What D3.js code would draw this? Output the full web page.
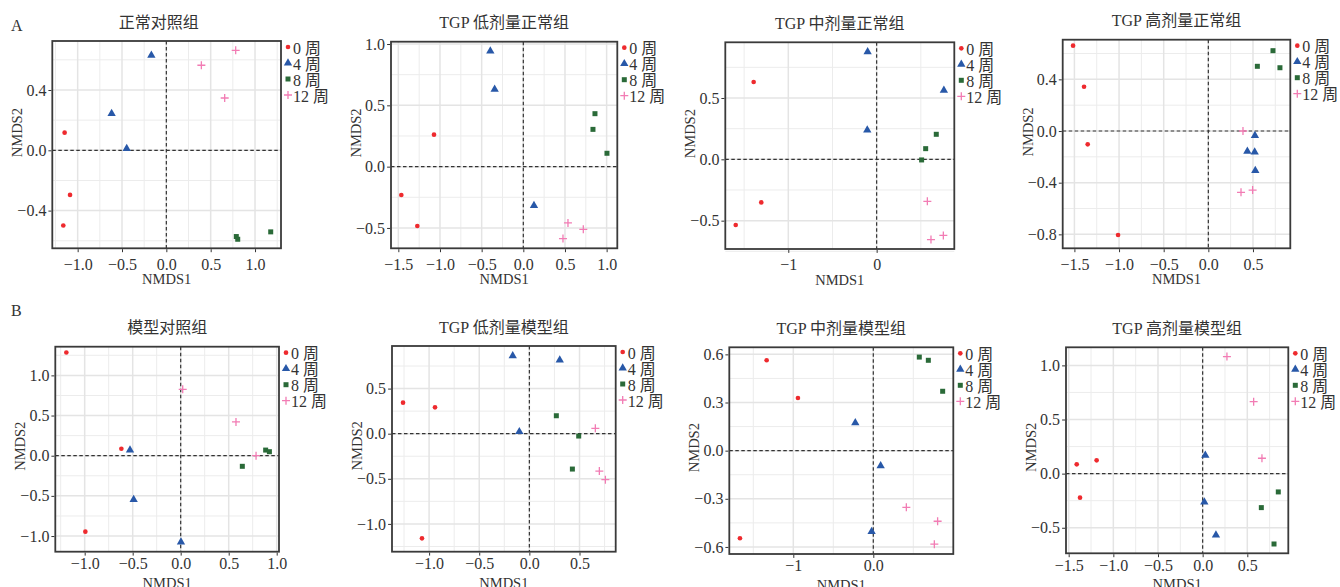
<!DOCTYPE html>
<html>
<head>
<meta charset="utf-8">
<script src="https://cdn.jsdelivr.net/npm/d3@7"></script>
<style>
  html, body { margin: 0; padding: 0; background: #fff; }
  svg { display: block; }
</style>
</head>
<body>
<svg id="chart" width="1340" height="587"></svg>
<script>
// ---- data: NMDS ordination scores, rows are [week, NMDS1, NMDS2] ----
const weeks = [0, 4, 8, 12];
const weekLabels = ["0 周", "4 周", "8 周", "12 周"];

const normalCtrl = [
  [0, -1.147, 0.117], [0, -1.086, -0.296], [0, -1.162, -0.499],
  [4, -0.169, 0.630], [4, -0.617, 0.243], [4, -0.447, 0.011],
  [8, 0.789, -0.572], [8, 0.805, -0.590], [8, 1.177, -0.541],
  [12, 0.782, 0.663], [12, 0.395, 0.564], [12, 0.658, 0.347]
];
const lowNormal = [
  [0, -1.464, -0.231], [0, -1.272, -0.484], [0, -1.072, 0.261],
  [4, -0.396, 0.943], [4, -0.344, 0.630], [4, 0.128, -0.318],
  [8, 0.860, 0.432], [8, 0.836, 0.304], [8, 1.004, 0.109],
  [12, 0.536, -0.459], [12, 0.720, -0.511], [12, 0.476, -0.587]
];
const midNormal = [
  [0, -1.392, 0.630], [0, -1.306, -0.351], [0, -1.595, -0.535],
  [4, -0.102, 0.877], [4, -0.106, 0.239], [4, 0.761, 0.562],
  [8, 0.675, 0.204], [8, 0.555, 0.087], [8, 0.509, -0.005],
  [12, 0.574, -0.342], [12, 0.755, -0.620], [12, 0.615, -0.654]
];
const highNormal = [
  [0, -1.515, 0.661], [0, -1.392, 0.343], [0, -1.351, -0.103], [0, -1.011, -0.805],
  [4, 0.522, -0.036], [4, 0.437, -0.157], [4, 0.519, -0.163], [4, 0.526, -0.307],
  [8, 0.724, 0.622], [8, 0.549, 0.501], [8, 0.802, 0.490],
  [12, 0.388, 0.000], [12, 0.496, -0.457], [12, 0.366, -0.475]
];
const modelCtrl = [
  [0, -1.191, 1.285], [0, -0.618, 0.087], [0, -0.993, -0.946],
  [4, -0.528, 0.070], [4, -0.490, -0.545], [4, 0.003, -1.074],
  [8, 0.885, 0.070], [8, 0.924, 0.050], [8, 0.642, -0.132],
  [12, 0.021, 0.826], [12, 0.576, 0.421], [12, 0.785, 0.000]
];
const lowModel = [
  [0, -1.260, 0.344], [0, -0.941, 0.292], [0, -1.071, -1.160],
  [4, -0.166, 0.864], [4, 0.303, 0.816], [4, -0.100, 0.022],
  [8, 0.269, 0.199], [8, 0.492, -0.026], [8, 0.429, -0.392],
  [12, 0.658, 0.059], [12, 0.698, -0.414], [12, 0.758, -0.510]
];
const midModel = [
  [0, -1.333, 0.563], [0, -0.942, 0.328], [0, -1.667, -0.546],
  [4, -0.225, 0.174], [4, 0.092, -0.095], [4, -0.021, -0.504],
  [8, 0.575, 0.583], [8, 0.688, 0.563], [8, 0.867, 0.370],
  [12, 0.413, -0.353], [12, 0.804, -0.440], [12, 0.763, -0.583]
];
const highModel = [
  [0, -1.410, 0.086], [0, -1.187, 0.123], [0, -1.373, -0.222],
  [4, 0.030, 0.169], [4, 0.019, -0.262], [4, 0.149, -0.567],
  [8, 0.847, -0.169], [8, 0.657, -0.314], [8, 0.799, -0.650],
  [12, 0.272, 1.081], [12, 0.571, 0.665], [12, 0.664, 0.142]
];

const titles = [
  "正常对照组", "TGP 低剂量正常组", "TGP 中剂量正常组", "TGP 高剂量正常组",
  "模型对照组", "TGP 低剂量模型组", "TGP 中剂量模型组", "TGP 高剂量模型组"
];

// axis ticks (major breaks and their labels; minor breaks get grid lines only)
const xTicks = [
  [-1, -0.5, 0, 0.5, 1], [-1.5, -1, -0.5, 0, 0.5, 1], [-1, 0], [-1.5, -1, -0.5, 0, 0.5],
  [-1, -0.5, 0, 0.5, 1], [-1, -0.5, 0, 0.5], [-1, 0], [-1.5, -1, -0.5, 0, 0.5]
];
const xTickLabels = [
  ["−1.0", "−0.5", "0.0", "0.5", "1.0"], ["−1.5", "−1.0", "−0.5", "0.0", "0.5", "1.0"],
  ["−1", "0"], ["−1.5", "−1.0", "−0.5", "0.0", "0.5"],
  ["−1.0", "−0.5", "0.0", "0.5", "1.0"], ["−1.0", "−0.5", "0.0", "0.5"],
  ["−1", "0.0"], ["−1.5", "−1.0", "−0.5", "0.0", "0.5"]
];
const xMinor = [
  [-1.25, -0.75, -0.25, 0.25, 0.75, 1.25], [-1.25, -0.75, -0.25, 0.25, 0.75],
  [-1.5, -0.5, 0.5], [-1.25, -0.75, -0.25, 0.25, 0.75],
  [-1.25, -0.75, -0.25, 0.25, 0.75], [-1.25, -0.75, -0.25, 0.25, 0.75],
  [-1.5, -0.5, 0.5], [-1.25, -0.75, -0.25, 0.25, 0.75]
];
const yTicks = [
  [-0.4, 0, 0.4], [-0.5, 0, 0.5, 1], [-0.5, 0, 0.5], [-0.8, -0.4, 0, 0.4],
  [-1, -0.5, 0, 0.5, 1], [-1, -0.5, 0, 0.5], [-0.6, -0.3, 0, 0.3, 0.6], [-0.5, 0, 0.5, 1]
];
const yTickLabels = [
  ["−0.4", "0.0", "0.4"], ["−0.5", "0.0", "0.5", "1.0"], ["−0.5", "0.0", "0.5"],
  ["−0.8", "−0.4", "0.0", "0.4"], ["−1.0", "−0.5", "0.0", "0.5", "1.0"],
  ["−1.0", "−0.5", "0.0", "0.5"], ["−0.6", "−0.3", "0.0", "0.3", "0.6"],
  ["−0.5", "0.0", "0.5", "1.0"]
];
const yMinor = [
  [-0.6, -0.2, 0.2, 0.6], [-0.25, 0.25, 0.75], [-0.75, -0.25, 0.25, 0.75], [-0.6, -0.2, 0.2, 0.6],
  [-0.75, -0.25, 0.25, 0.75, 1.25], [-1.25, -0.75, -0.25, 0.25, 0.75],
  [-0.45, -0.15, 0.15, 0.45], [-0.25, 0.25, 0.75]
];

const xDomains = [
  [-1.286, 1.293], [-1.588, 1.128], [-1.713, 0.879], [-1.631, 0.918],
  [-1.306, 1.024], [-1.370, 0.861], [-1.800, 1.000], [-1.530, 0.959]
];
const yDomains = [
  [-0.650, 0.725], [-0.666, 1.019], [-0.731, 0.954], [-0.908, 0.707],
  [-1.195, 1.357], [-1.308, 0.972], [-0.644, 0.644], [-0.736, 1.167]
];

// ---- layout: plotting frame of each panel (left, top, right, bottom) ----
const frames = [
  [52.3, 41.0, 281.0, 248.3], [391.0, 41.7, 617.3, 248.3],
  [725.3, 42.3, 954.3, 249.0], [1062.7, 39.7, 1290.3, 248.3],
  [55.3, 346.7, 279.0, 551.7], [392.0, 346.0, 615.7, 551.7],
  [729.3, 347.3, 953.3, 554.0], [1066.0, 347.3, 1288.3, 553.3]
];
const panelData = [normalCtrl, lowNormal, midNormal, highNormal, modelCtrl, lowModel, midModel, highModel];

const FONT = '"Liberation Serif", "Times New Roman", "Noto Sans CJK SC", serif';
const colors = { 0: "#ee2a2e", 4: "#2858a8", 8: "#2a6a38", 12: "#f27cb4" };
const symbolGen = {
  0: d3.symbol().type(d3.symbolCircle).size(17)(),
  4: d3.symbol().type(d3.symbolTriangle).size(30)(),
  8: d3.symbol().type(d3.symbolSquare).size(25)()
};

const svg = d3.select("#chart");

function drawMarker(g, week, x, y) {
  if (week === 12) {
    const h = 4;
    g.append("path")
      .attr("d", `M${x - h},${y}H${x + h}M${x},${y - h}V${y + h}`)
      .attr("stroke", colors[12]).attr("stroke-width", 1.3).attr("fill", "none");
  } else {
    g.append("path")
      .attr("d", symbolGen[week])
      .attr("transform", `translate(${x},${y})`)
      .attr("fill", colors[week]);
  }
}

panelData.forEach((data, i) => {
  const [l, t, r, b] = frames[i];
  const row = i < 4 ? 0 : 1;
  const x = d3.scaleLinear().domain(xDomains[i]).range([l, r]);
  const y = d3.scaleLinear().domain(yDomains[i]).range([b, t]);
  const g = svg.append("g");

  // grid
  g.selectAll(".gx-minor").data(xMinor[i]).join("line")
    .attr("x1", d => x(d)).attr("x2", d => x(d)).attr("y1", t).attr("y2", b)
    .attr("stroke", "#ececec").attr("stroke-width", 1);
  g.selectAll(".gy-minor").data(yMinor[i]).join("line")
    .attr("y1", d => y(d)).attr("y2", d => y(d)).attr("x1", l).attr("x2", r)
    .attr("stroke", "#ececec").attr("stroke-width", 1);
  g.selectAll(".gx").data(xTicks[i]).join("line")
    .attr("x1", d => x(d)).attr("x2", d => x(d)).attr("y1", t).attr("y2", b)
    .attr("stroke", "#e4e4e4").attr("stroke-width", 1.5);
  g.selectAll(".gy").data(yTicks[i]).join("line")
    .attr("y1", d => y(d)).attr("y2", d => y(d)).attr("x1", l).attr("x2", r)
    .attr("stroke", "#e4e4e4").attr("stroke-width", 1.5);

  // reference lines through the origin
  g.append("line").attr("x1", x(0)).attr("x2", x(0)).attr("y1", t).attr("y2", b)
    .attr("stroke", "#333").attr("stroke-width", 1.2).attr("stroke-dasharray", "3.5,2.5");
  g.append("line").attr("y1", y(0)).attr("y2", y(0)).attr("x1", l).attr("x2", r)
    .attr("stroke", "#333").attr("stroke-width", 1.2).attr("stroke-dasharray", "3.5,2.5");

  // points
  data.forEach(([wk, vx, vy]) => drawMarker(g, wk, x(vx), y(vy)));

  // frame
  g.append("rect").attr("x", l).attr("y", t).attr("width", r - l).attr("height", b - t)
    .attr("fill", "none").attr("stroke", "#3a3a3a").attr("stroke-width", 1.8);

  // axes (ticks + labels)
  const xAxis = d3.axisBottom(x).tickValues(xTicks[i]).tickSize(3).tickPadding(row === 0 ? 6 : 2)
    .tickFormat((d, k) => xTickLabels[i][k]);
  const yAxis = d3.axisLeft(y).tickValues(yTicks[i]).tickSize(3).tickPadding(2)
    .tickFormat((d, k) => yTickLabels[i][k]);
  const gx = g.append("g").attr("transform", `translate(0,${b + 0.9})`).call(xAxis);
  const gy = g.append("g").attr("transform", `translate(${l - 0.9},0)`).call(yAxis);
  [gx, gy].forEach(a => {
    a.select(".domain").remove();
    a.selectAll(".tick line").attr("stroke", "#333").attr("stroke-width", 1);
    a.selectAll(".tick text").attr("font-size", 16).attr("fill", "#333");
  });

  // axis titles
  g.append("text").attr("x", (l + r) / 2).attr("y", b + 31)
    .attr("text-anchor", "middle").attr("dominant-baseline", "central")
    .attr("font-size", 14.5).text("NMDS1");
  const yc = (t + b) / 2 + (row === 0 ? -12 : -3);
  g.append("text").attr("transform", `translate(${l - 35},${yc}) rotate(-90)`)
    .attr("text-anchor", "middle").attr("dominant-baseline", "central")
    .attr("font-size", 14.5).text("NMDS2");

  // panel title
  g.append("text").attr("x", (l + r) / 2 + (i === 0 ? -8 : 0)).attr("y", t - 19)
    .attr("text-anchor", "middle").attr("dominant-baseline", "central")
    .attr("font-size", 16).text(titles[i]);

  // legend
  weeks.forEach((wk, k) => {
    const ly = t + 6 + k * 16;
    drawMarker(g, wk, r + 7, ly);
    g.append("text").attr("x", r + 12).attr("y", ly + 1)
      .attr("dominant-baseline", "central").attr("font-size", 16).text(weekLabels[k]);
  });
});

// row labels
svg.append("text").attr("x", 11).attr("y", 25).attr("dominant-baseline", "central")
  .attr("font-size", 16).text("A");
svg.append("text").attr("x", 11).attr("y", 310).attr("dominant-baseline", "central")
  .attr("font-size", 16).text("B");

// one serif face for every label
svg.selectAll("text").style("font-family", FONT).style("fill", "#333");
</script>
</body>
</html>
